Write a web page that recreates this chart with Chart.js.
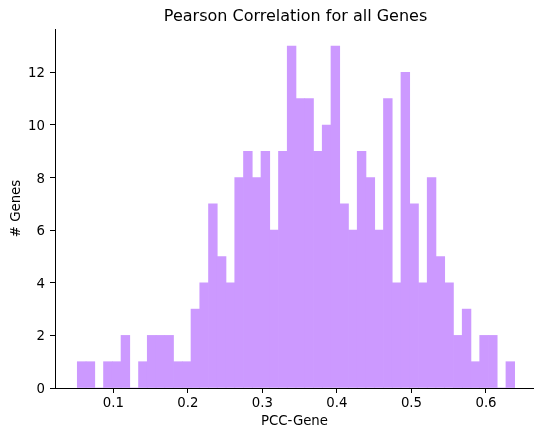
<!DOCTYPE html>
<html>
<head>
<script src="https://cdn.jsdelivr.net/npm/chart.js@4/dist/chart.umd.min.js"></script>
<style>
  body { margin: 0; background: #fff; }
</style>
</head>
<body>
<canvas id="canvas" width="534" height="431"></canvas>
<script>
// histogram counts, 50 equal bins
var counts = [1, 1, 0, 1, 1, 2, 0, 1, 2, 2,
              2, 1, 1, 3, 4, 7, 5, 4, 8, 9,
              8, 9, 6, 9, 13, 11, 11, 9, 10, 13,
              7, 6, 9, 8, 6, 11, 4, 12, 7, 4,
              8, 5, 4, 2, 3, 1, 2, 2, 0, 1];
var binStart = 0.0517;
var binWidth = 0.011736;
// full axes range; the right end is cut off by the picture edge
var xLimits = [0.0218, 0.6672];
var xVisibleMax = 0.6644;
var yLimits = [0, 13.65];
var xTicks = [0.1, 0.2, 0.3, 0.4, 0.5, 0.6];
var yTicks = [0, 2, 4, 6, 8, 10, 12];

var barColor = 'rgb(204,153,255)';
var font = 'DejaVu Sans';

var points = counts.map((c, i) => ({ x: binStart + (i + 0.5) * binWidth, y: c }));

// title centred over the full axes
var axesTitle = {
  id: 'axesTitle',
  afterDraw(chart) {
    let ctx = chart.ctx;
    let xs = chart.scales.x;
    let cx = (xs.getPixelForValue(xLimits[0]) + xs.getPixelForValue(xLimits[1])) / 2;
    ctx.save();
    ctx.font = '16px "' + font + '"';
    ctx.fillStyle = '#000';
    ctx.textAlign = 'center';
    ctx.textBaseline = 'alphabetic';
    ctx.fillText('Pearson Correlation for all Genes', cx, 20.5);
    ctx.restore();
  }
};

var ctx = document.getElementById('canvas').getContext('2d');
new Chart(ctx, {
  type: 'bar',
  data: {
    datasets: [{
      data: points,
      backgroundColor: barColor,
      borderWidth: 0,
      barPercentage: 1,
      categoryPercentage: 1
    }]
  },
  options: {
    responsive: false,
    animation: false,
    devicePixelRatio: 1,
    layout: { padding: { top: 29, left: 0, right: 0, bottom: 0 } },
    plugins: {
      legend: { display: false },
      tooltip: { enabled: false },
      title: { display: false }
    },
    scales: {
      x: {
        type: 'linear',
        min: xLimits[0],
        max: xVisibleMax,
        offset: false,
        afterFit: s => { s.height = 43; },
        afterBuildTicks: s => { s.ticks = xTicks.map(v => ({ value: v })); },
        grid: { offset: false, drawOnChartArea: false, drawTicks: true, tickLength: 5, color: '#000' },
        border: { display: true, color: '#000', width: 1 },
        ticks: {
          color: '#000', padding: 3, maxRotation: 0, autoSkip: false,
          font: { family: font, size: 13.3 },
          callback: v => v.toFixed(1)
        },
        title: {
          display: true, text: 'PCC-Gene', color: '#000',
          font: { family: font, size: 13.3 },
          padding: { top: 0, bottom: 1.3 }
        }
      },
      y: {
        min: yLimits[0],
        max: yLimits[1],
        afterFit: s => { s.width = 55; },
        afterBuildTicks: s => { s.ticks = yTicks.map(v => ({ value: v })); },
        grid: { drawOnChartArea: false, drawTicks: true, tickLength: 5, color: '#000' },
        border: { display: true, color: '#000', width: 1 },
        ticks: {
          color: '#000', padding: 5, labelOffset: 1.5,
          font: { family: font, size: 13.3 },
          callback: v => String(v)
        },
        title: {
          display: true, text: '# Genes', color: '#000',
          font: { family: font, size: 13.3 },
          padding: { top: 9, bottom: 0 }
        }
      }
    }
  },
  plugins: [axesTitle]
});
</script>
</body>
</html>
